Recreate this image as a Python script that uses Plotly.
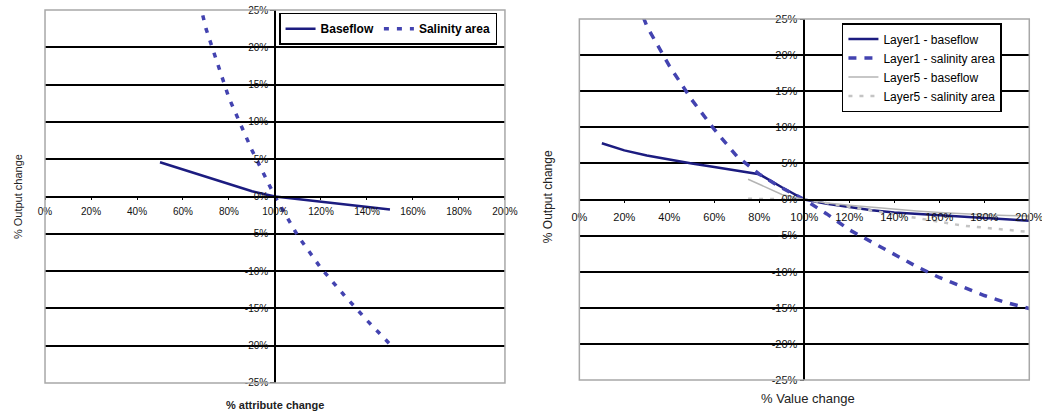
import plotly.graph_objects as go

# ---------------- data ----------------
left_x = [50, 60, 70, 80, 90, 100, 110, 120, 130, 140, 150]
left_baseflow = [4.6, 3.6, 2.6, 1.6, 0.7, 0.0, -0.35, -0.7, -1.05, -1.4, -1.75]
left_salinity = [48, 35, 22.5, 13.2, 6.2, 0.0, -5.3, -9.6, -13.2, -16.6, -19.8]

right_x1 = [10, 20, 30, 40, 50, 60, 70, 80, 90, 100,
            110, 120, 130, 140, 150, 160, 170, 180, 190, 200]
layer1_baseflow = [7.8, 6.8, 6.1, 5.5, 5.0, 4.5, 4.0, 3.5, 1.7, 0.0,
                   -0.6, -1.1, -1.5, -1.8, -2.0, -2.2, -2.4, -2.6, -2.8, -2.95]
layer1_salinity = [42, 32, 24, 18.5, 13.8, 9.7, 6.0, 3.5, 1.6, 0.0,
                   -2.0, -4.2, -5.9, -7.6, -9.3, -10.8, -12.1, -13.3, -14.3, -15.1]

right_x5 = [75, 80, 90, 100, 110, 120, 130, 140, 150, 160, 170, 180, 190, 200]
layer5_baseflow = [2.8, 2.1, 0.7, 0.0, -0.5, -0.8, -1.1, -1.4, -1.6, -1.8, -2.0, -2.1, -2.2, -2.3]
layer5_salinity = [0.1, 0.1, 0.05, 0.0, -0.5, -1.0, -1.5, -2.0, -2.5, -3.0, -3.6, -3.9, -4.2, -4.5]

x_tickvals = [0, 20, 40, 60, 80, 100, 120, 140, 160, 180, 200]
x_ticktext = ["0%", "20%", "40%", "60%", "80%", "100%", "120%", "140%", "160%", "180%", "200%"]
y_tickvals = [-25, -20, -15, -10, -5, 0, 5, 10, 15, 20, 25]
y_ticktext = ["-25%", "-20%", "-15%", "-10%", "-5%", "0%", "5%", "10%", "15%", "20%", "25%"]

NAVY = "#1c1c80"
BLUE_DASH = "#4343b0"
GRAY = "#b4b4b4"
GRAY_DASH = "#c4c4c4"
FONT = "Liberation Sans, Arial, sans-serif"

fig = go.Figure()

# left chart
fig.add_trace(go.Scatter(x=left_x, y=left_baseflow, mode="lines", name="Baseflow",
                         line=dict(color=NAVY, width=2.5), xaxis="x", yaxis="y", legend="legend"))
fig.add_trace(go.Scatter(x=left_x, y=left_salinity, mode="lines", name="Salinity area",
                         line=dict(color=BLUE_DASH, width=3.5, dash="5px,8px"),
                         xaxis="x", yaxis="y", legend="legend"))

# right chart
fig.add_trace(go.Scatter(x=right_x1, y=layer1_baseflow, mode="lines", name="Layer1 - baseflow",
                         line=dict(color=NAVY, width=2.5), xaxis="x2", yaxis="y2", legend="legend2"))
fig.add_trace(go.Scatter(x=right_x1, y=layer1_salinity, mode="lines", name="Layer1 - salinity area",
                         line=dict(color=BLUE_DASH, width=3.5, dash="8px,8px"),
                         xaxis="x2", yaxis="y2", legend="legend2"))
fig.add_trace(go.Scatter(x=right_x5, y=layer5_baseflow, mode="lines", name="Layer5 - baseflow",
                         line=dict(color=GRAY, width=1.5), xaxis="x2", yaxis="y2", legend="legend2"))
fig.add_trace(go.Scatter(x=right_x5, y=layer5_salinity, mode="lines", name="Layer5 - salinity area",
                         line=dict(color=GRAY_DASH, width=2.5, dash="4px,7px"),
                         xaxis="x2", yaxis="y2", legend="legend2"))

L_XD = [0.0432, 0.4846]
L_YD = [0.0749, 0.9758]
R_XD = [0.556, 0.9878]
R_YD = [0.0821, 0.9541]


def xax(domain, ypos, size, standoff):
    return dict(domain=domain, range=[0, 200], anchor="free", position=ypos,
                tickvals=x_tickvals, ticktext=x_ticktext, showline=True, linecolor="black",
                linewidth=1.5, ticks="outside", ticklen=3, tickcolor="black", tickwidth=1,
                showgrid=False, zeroline=False, fixedrange=True, automargin=False,
                ticklabeloverflow="allow", ticklabelstandoff=standoff,
                tickfont=dict(family=FONT, size=size, color="#111111"))


def yax(domain, xpos, size):
    return dict(domain=domain, range=[-25, 25], anchor="free", position=xpos,
                tickvals=y_tickvals, ticktext=y_ticktext, showline=True, linecolor="black",
                linewidth=1.5, ticks="outside", ticklen=4, tickcolor="black", tickwidth=1,
                showgrid=True, gridcolor="black", gridwidth=1.5, zeroline=False,
                fixedrange=True, automargin=False, ticklabeloverflow="allow",
                tickfont=dict(family=FONT, size=size, color="#111111"))


fig.update_layout(
    width=1042, height=414,
    margin=dict(l=0, r=0, t=0, b=0, pad=0, autoexpand=False),
    paper_bgcolor="white", plot_bgcolor="white",
    font=dict(family=FONT, color="black"),
    xaxis=xax(L_XD, (L_YD[0] + L_YD[1]) / 2, 10, 3),
    yaxis=yax(L_YD, (L_XD[0] + L_XD[1]) / 2, 10),
    xaxis2=xax(R_XD, (R_YD[0] + R_YD[1]) / 2, 11, 5),
    yaxis2=yax(R_YD, (R_XD[0] + R_XD[1]) / 2, 11),
    legend=dict(x=0.2678, y=0.9693, xanchor="left", yanchor="top", orientation="h",
                bgcolor="white", bordercolor="black", borderwidth=1.5,
                font=dict(family=FONT, size=12, color="black", weight="bold"),
                itemwidth=30, tracegroupgap=0),
    legend2=dict(x=0.808, y=0.9444, xanchor="left", yanchor="top", orientation="v",
                 bgcolor="white", bordercolor="black", borderwidth=1.5,
                 font=dict(family=FONT, size=12, color="black"),
                 itemwidth=30, tracegroupgap=0),
    shapes=[
        dict(type="rect", xref="x domain", yref="y domain", x0=0, x1=1, y0=0, y1=1,
             line=dict(color="#a8a8a8", width=1.5), layer="above"),
        dict(type="rect", xref="x2 domain", yref="y2 domain", x0=0, x1=1, y0=0, y1=1,
             line=dict(color="#a8a8a8", width=1.5), layer="above"),
    ],
    annotations=[
        dict(text="% attribute change", x=0.2639, y=0.0217, xref="paper", yref="paper",
             xanchor="center", yanchor="middle", showarrow=False,
             font=dict(family=FONT, size=11, color="#222", weight="bold")),
        dict(text="% Value change", x=0.7754, y=0.0386, xref="paper", yref="paper",
             xanchor="center", yanchor="middle", showarrow=False,
             font=dict(family=FONT, size=13, color="#222")),
        dict(text="% Output change", x=0.0173, y=0.524, xref="paper", yref="paper",
             xanchor="center", yanchor="middle", showarrow=False, textangle=-90,
             font=dict(family=FONT, size=11, color="#222")),
        dict(text="% Output change", x=0.526, y=0.524, xref="paper", yref="paper",
             xanchor="center", yanchor="middle", showarrow=False, textangle=-90,
             font=dict(family=FONT, size=12, color="#222")),
    ],
)

fig.write_html("out.html", config={"displayModeBar": False},
               post_script="document.body.style.margin='0';document.body.style.overflow='hidden';")
